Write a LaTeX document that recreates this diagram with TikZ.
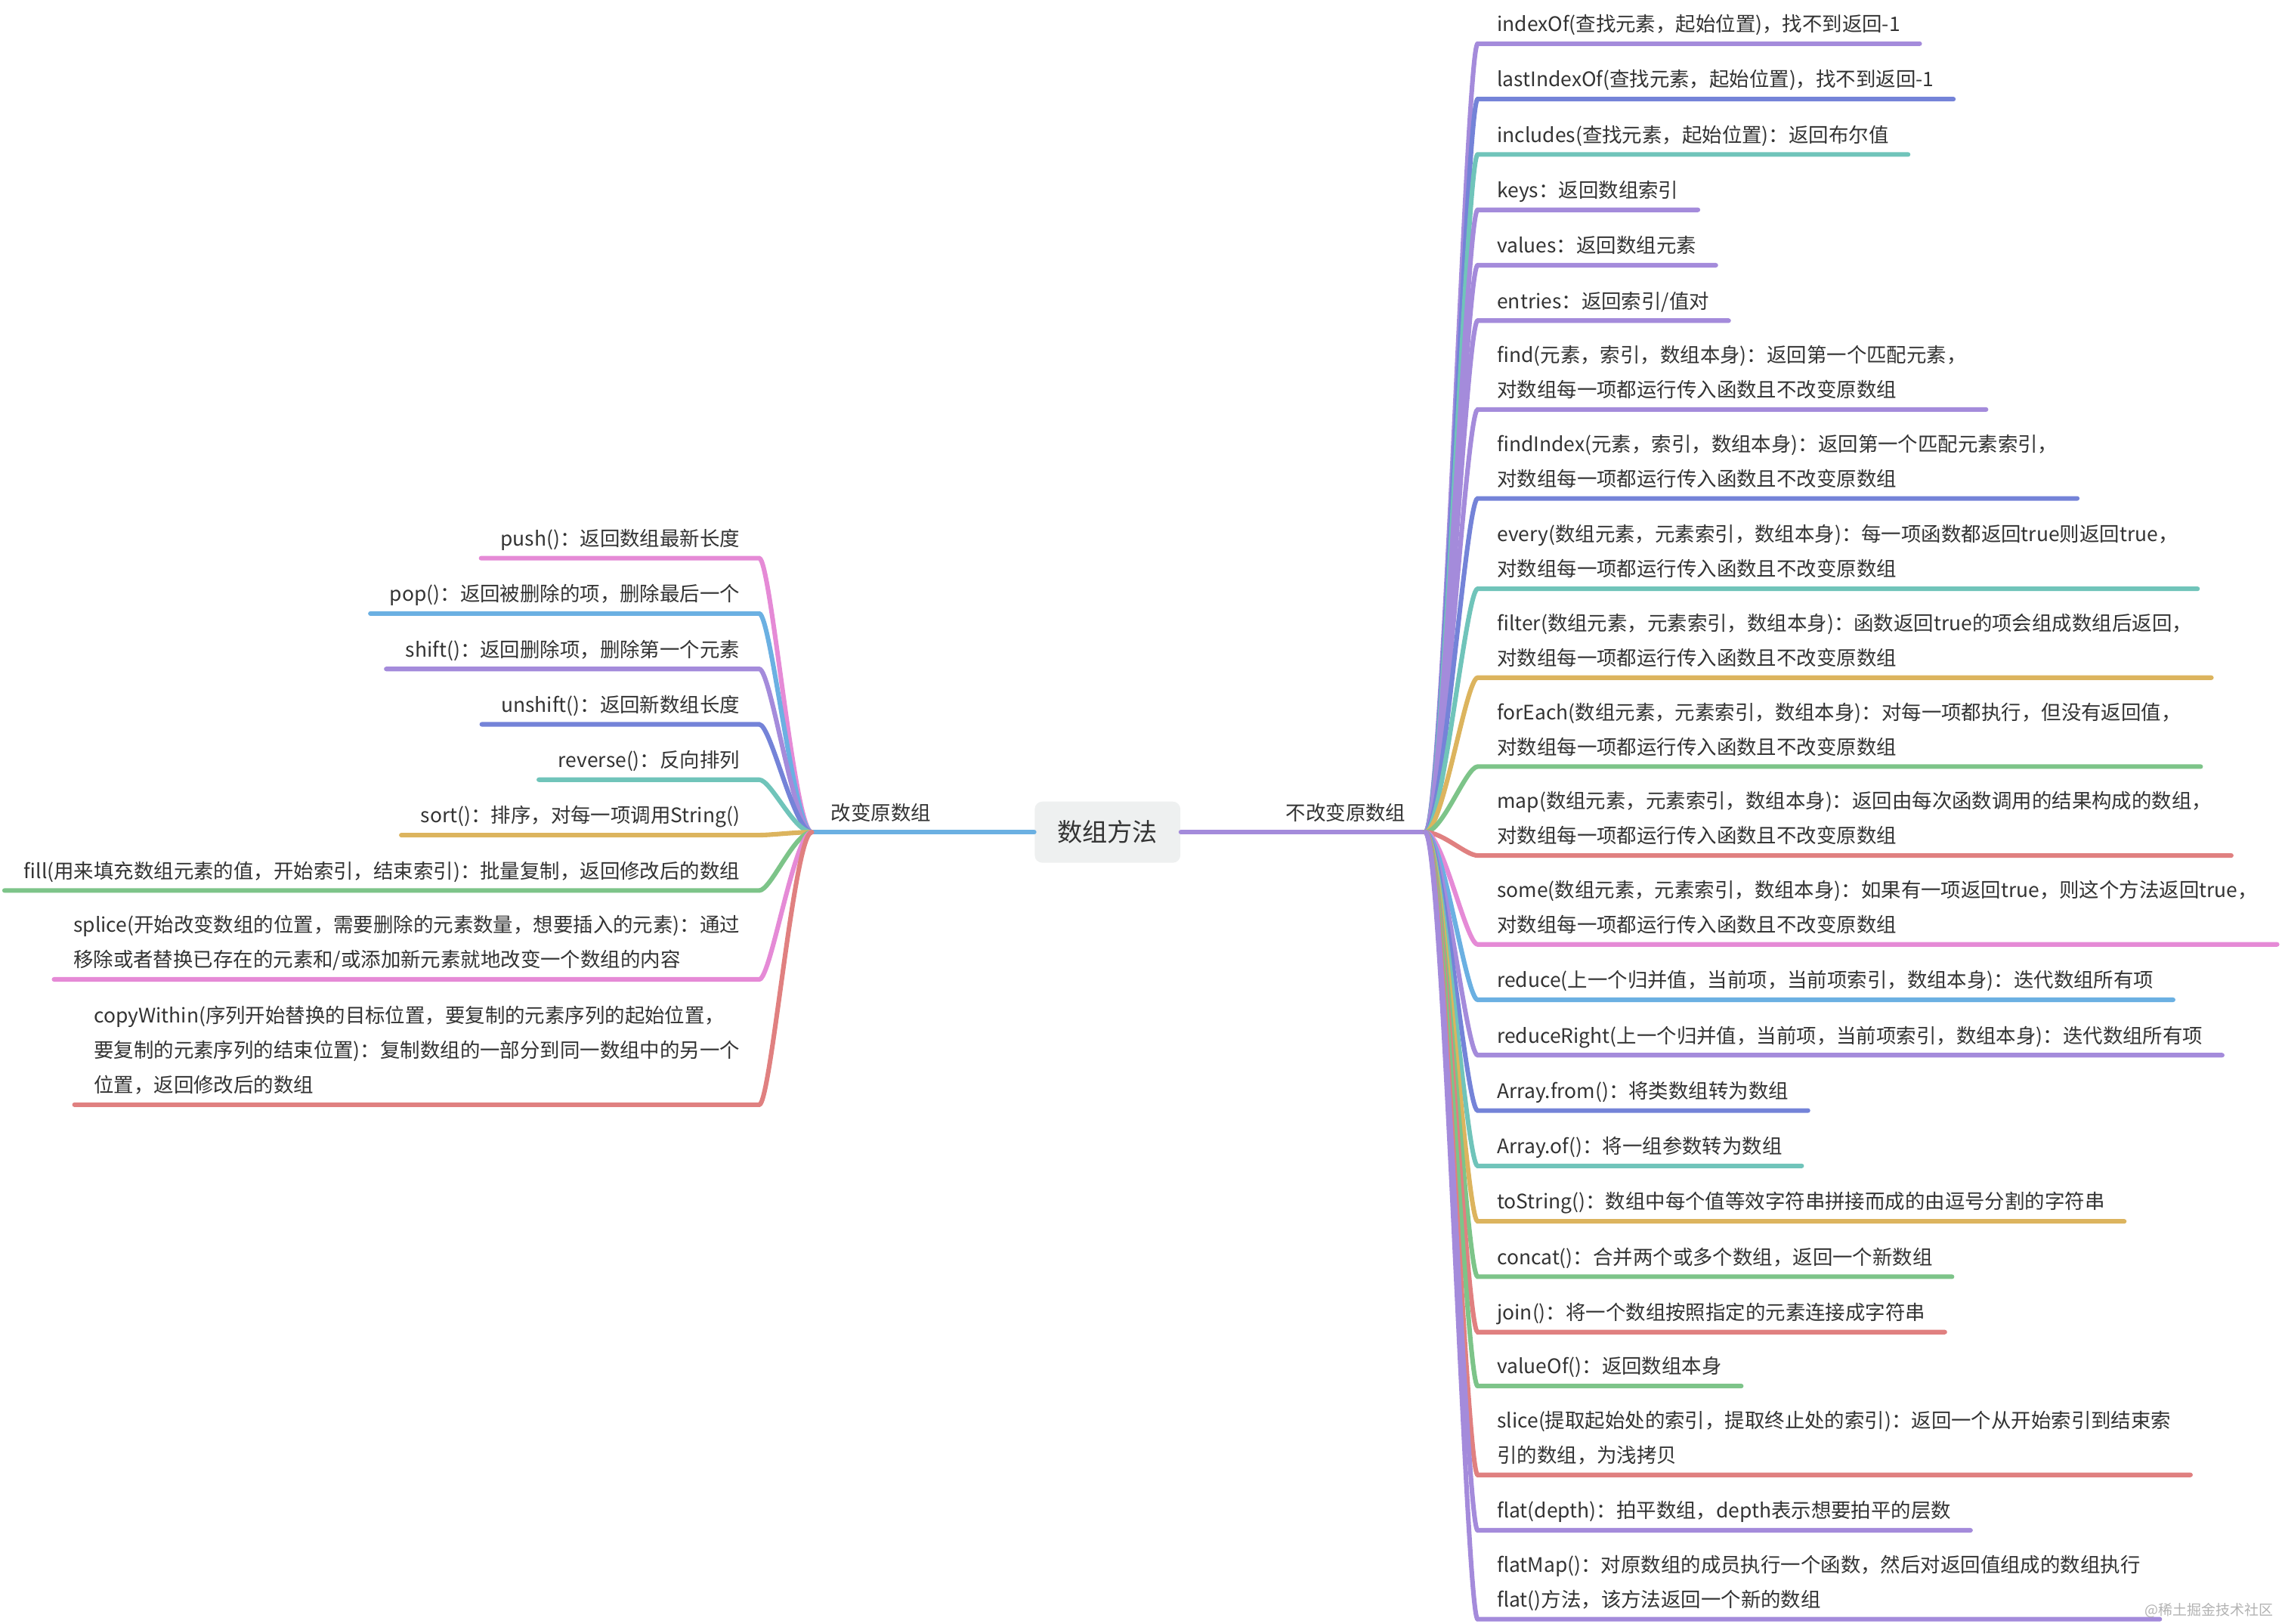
\documentclass[tikz,border=0pt]{standalone}
\usepackage{fontspec}
\setmainfont{Noto Sans CJK SC}
\usepackage{tikz}
\definecolor{mmpurple}{HTML}{A48BDB}
\definecolor{mmindigo}{HTML}{7483D8}
\definecolor{mmteal}{HTML}{70C4BA}
\definecolor{mmgold}{HTML}{DCB45E}
\definecolor{mmgreen}{HTML}{7DC489}
\definecolor{mmred}{HTML}{E08080}
\definecolor{mmpink}{HTML}{E58AD6}
\definecolor{mmblue}{HTML}{6BB0E2}
\definecolor{mmgray}{HTML}{EEF0F0}
\definecolor{mmink}{HTML}{333333}
\newcommand{\kidfont}{\fontsize{7.8pt}{13.6pt}\selectfont}

\begin{document}
\begin{tikzpicture}[x=0.02cm,y=-0.02cm,
  twig/.style={line width=1.8pt,line cap=round},
  kid/.style={font=\kidfont,text=mmink,inner xsep=0.26cm,inner ysep=0.5pt,execute at end node=\strut},
  rkid/.style={kid,anchor=south west,align=left},
  lkid/.style={kid,anchor=south east,align=right}]
  \useasboundingbox (0,0) rectangle (1568,1114);
  \node[fill=mmgray,rounded corners=3pt,minimum width=2cm,minimum height=0.84cm,font=\fontsize{9.8pt}{11pt}\selectfont,text=mmink] (root) at (760,571) {数组方法};
  \node[kid,anchor=south west] (L) at (557,571) {改变原数组};
  \node[kid,anchor=south east] (R) at (978,571) {不改变原数组};
  \draw[twig,mmblue] (root.west) -- (L.south west);
  \draw[twig,mmpurple] (root.east) -- (R.south east);

  \node[lkid] (push) at (521,383) {push()：返回数组最新长度};
  \node[lkid] (pop) at (521,421) {pop()：返回被删除的项，删除最后一个};
  \node[lkid] (shift) at (521,459) {shift()：返回删除项，删除第一个元素};
  \node[lkid] (unshift) at (521,497) {unshift()：返回新数组长度};
  \node[lkid] (reverse) at (521,535) {reverse()：反向排列};
  \node[lkid] (sort) at (521,573) {sort()：排序，对每一项调用String()};
  \node[lkid] (fill) at (521,611) {fill(用来填充数组元素的值，开始索引，结束索引)：批量复制，返回修改后的数组};
  \node[lkid,align=left] (splice) at (521,672) {splice(开始改变数组的位置，需要删除的元素数量，想要插入的元素)：通过\\移除或者替换已存在的元素和/或添加新元素就地改变一个数组的内容};
  \node[lkid,align=left] (copywithin) at (521,758) {copyWithin(序列开始替换的目标位置，要复制的元素序列的起始位置，\\要复制的元素序列的结束位置)：复制数组的一部分到同一数组中的另一个\\位置，返回修改后的数组};
  \foreach \n/\c in {push/mmpink,pop/mmblue,shift/mmpurple,unshift/mmindigo,reverse/mmteal,sort/mmgold,fill/mmgreen,splice/mmpink,copywithin/mmred}
    \draw[twig,\c] (L.south west) .. controls +(-12,0) and +(8,0) .. (\n.south east) -- (\n.south west);

  \node[rkid] (indexof) at (1014,30) {indexOf(查找元素，起始位置)，找不到返回-1};
  \node[rkid] (lastindexof) at (1014,68) {lastIndexOf(查找元素，起始位置)，找不到返回-1};
  \node[rkid] (includes) at (1014,106) {includes(查找元素，起始位置)：返回布尔值};
  \node[rkid] (keys) at (1014,144) {keys：返回数组索引};
  \node[rkid] (values) at (1014,182) {values：返回数组元素};
  \node[rkid] (entries) at (1014,220) {entries：返回索引/值对};
  \node[rkid] (find) at (1014,281) {find(元素，索引，数组本身)：返回第一个匹配元素，\\对数组每一项都运行传入函数且不改变原数组};
  \node[rkid] (findindex) at (1014,342) {findIndex(元素，索引，数组本身)：返回第一个匹配元素索引，\\对数组每一项都运行传入函数且不改变原数组};
  \node[rkid] (every) at (1014,404) {every(数组元素，元素索引，数组本身)：每一项函数都返回true则返回true，\\对数组每一项都运行传入函数且不改变原数组};
  \node[rkid] (filter) at (1014,465) {filter(数组元素，元素索引，数组本身)：函数返回true的项会组成数组后返回，\\对数组每一项都运行传入函数且不改变原数组};
  \node[rkid] (foreachm) at (1014,526) {forEach(数组元素，元素索引，数组本身)：对每一项都执行，但没有返回值，\\对数组每一项都运行传入函数且不改变原数组};
  \node[rkid] (map) at (1014,587) {map(数组元素，元素索引，数组本身)：返回由每次函数调用的结果构成的数组，\\对数组每一项都运行传入函数且不改变原数组};
  \node[rkid] (some) at (1014,648) {some(数组元素，元素索引，数组本身)：如果有一项返回true，则这个方法返回true，\\对数组每一项都运行传入函数且不改变原数组};
  \node[rkid] (reduce) at (1014,686) {reduce(上一个归并值，当前项，当前项索引，数组本身)：迭代数组所有项};
  \node[rkid] (reduceright) at (1014,724) {reduceRight(上一个归并值，当前项，当前项索引，数组本身)：迭代数组所有项};
  \node[rkid] (arrayfrom) at (1014,762) {Array.from()：将类数组转为数组};
  \node[rkid] (arrayof) at (1014,800) {Array.of()：将一组参数转为数组};
  \node[rkid] (tostring) at (1014,838) {toString()：数组中每个值等效字符串拼接而成的由逗号分割的字符串};
  \node[rkid] (concat) at (1014,876) {concat()：合并两个或多个数组，返回一个新数组};
  \node[rkid] (join) at (1014,914) {join()：将一个数组按照指定的元素连接成字符串};
  \node[rkid] (valueof) at (1014,951) {valueOf()：返回数组本身};
  \node[rkid] (slice) at (1014,1012) {slice(提取起始处的索引，提取终止处的索引)：返回一个从开始索引到结束索\\引的数组，为浅拷贝};
  \node[rkid] (flat) at (1014,1050) {flat(depth)：拍平数组，depth表示想要拍平的层数};
  \node[rkid] (flatmap) at (1014,1111) {flatMap()：对原数组的成员执行一个函数，然后对返回值组成的数组执行\\flat()方法，该方法返回一个新的数组};
  \foreach \n/\c in {indexof/mmpurple,lastindexof/mmindigo,includes/mmteal,keys/mmpurple,values/mmpurple,entries/mmpurple,find/mmpurple,findindex/mmindigo,every/mmteal,filter/mmgold,foreachm/mmgreen,map/mmred,some/mmpink,reduce/mmblue,reduceright/mmpurple,arrayfrom/mmindigo,arrayof/mmteal,tostring/mmgold,concat/mmgreen,join/mmred,valueof/mmgreen,slice/mmred,flat/mmpurple,flatmap/mmpurple}
    \draw[twig,\c] (R.south east) .. controls +(12,0) and +(-8,0) .. (\n.south west) -- (\n.south east);

  \node[font=\fontsize{5.6pt}{6pt}\selectfont,text=black!30,anchor=east] (mark) at (1566,1105) {@稀土掘金技术社区};
\end{tikzpicture}
\end{document}
